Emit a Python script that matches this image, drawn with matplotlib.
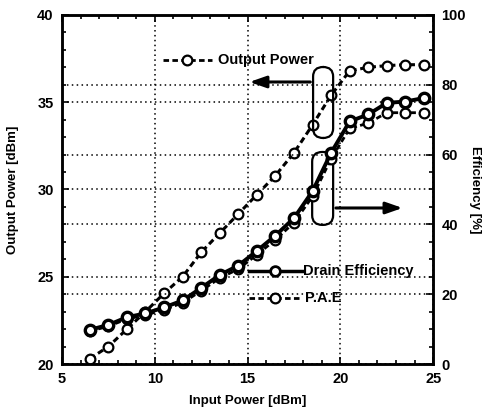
import matplotlib
matplotlib.use("Agg")
import matplotlib.pyplot as plt
from matplotlib.patches import FancyBboxPatch
from matplotlib.ticker import MultipleLocator

plt.rcParams['font.family'] = ['Liberation Sans', 'DejaVu Sans']
plt.rcParams['font.weight'] = 'bold'

# data
input_power = [6.5, 7.5, 8.5, 9.5, 10.5, 11.5, 12.5, 13.5, 14.5, 15.5,
               16.5, 17.5, 18.5, 19.5, 20.5, 21.5, 22.5, 23.5, 24.5]
output_power = [20.3, 21.0, 22.0, 23.0, 24.05, 25.0, 26.4, 27.5, 28.6, 29.7,
                30.8, 32.1, 33.7, 35.4, 36.8, 37.0, 37.1, 37.15, 37.15]
drain_eff = [9.8, 11.2, 13.4, 14.5, 16.2, 18.2, 21.8, 25.5, 28.2, 32.4,
             36.8, 41.8, 49.5, 60.5, 69.5, 71.5, 74.8, 75.2, 76.2]
pae = [9.4, 10.8, 12.9, 14.0, 15.6, 17.5, 21.0, 24.6, 27.2, 31.3,
       35.6, 40.5, 48.0, 58.8, 67.5, 69.0, 72.0, 72.0, 72.0]

fig = plt.figure(figsize=(4.84, 4.16), dpi=100)
ax = fig.add_axes([0.128, 0.125, 0.767, 0.839])
ax2 = ax.twinx()

dotted = (0, (1, 2.2))

ax.plot(input_power, output_power, color='black', lw=2.2, ls=(0, (2, 1.2)),
        marker='o', ms=7, mfc='white', mec='black', mew=1.6, zorder=5)
ax2.plot(input_power, drain_eff, color='black', lw=2.8, ls='-',
         marker='o', ms=7.5, mfc='white', mec='black', mew=2.4, zorder=5)
ax2.plot(input_power, pae, color='black', lw=2.0, ls=(0, (2, 1.2)),
         marker='o', ms=7, mfc='white', mec='black', mew=1.6, zorder=4)

ax.set_xlim(5, 25)
ax.set_ylim(20, 40)
ax2.set_ylim(0, 100)

ax.xaxis.set_major_locator(MultipleLocator(5))
ax.xaxis.set_minor_locator(MultipleLocator(1))
ax.yaxis.set_major_locator(MultipleLocator(5))
ax.yaxis.set_minor_locator(MultipleLocator(1))
ax2.yaxis.set_major_locator(MultipleLocator(20))
ax2.yaxis.set_minor_locator(MultipleLocator(5))

for a in (ax, ax2):
    a.tick_params(which='both', direction='in', width=1.2, labelsize=10.5)
    a.tick_params(which='major', length=5)
    a.tick_params(which='minor', length=3)
    for s in a.spines.values():
        s.set_linewidth(1.8)
ax.tick_params(which='both', top=True, pad=6)
ax2.tick_params(which='both', pad=6)

ax.grid(True, which='major', color='black', lw=1.1, ls=dotted)
ax2.grid(True, which='major', axis='y', color='black', lw=1.1, ls=dotted)

ax.set_xlabel('Input Power [dBm]', fontsize=9.5, fontweight='bold', labelpad=6)
ax.set_ylabel('Output Power [dBm]', fontsize=9.5, fontweight='bold', labelpad=13)
ax2.set_ylabel('Efficiency [%]', fontsize=9.5, fontweight='bold',
               rotation=-90, va='center', ha='center')
ax2.yaxis.set_label_coords(1.113, 0.5)

# legend-like annotations drawn inside the plot
ax.plot([10.45, 13.1], [37.42, 37.42], color='black', lw=2, ls=(0, (2, 1.2)))
ax.plot([11.75], [37.42], marker='o', ms=7, mfc='white', mec='black', mew=1.6)
ax.text(13.4, 37.42, 'Output Power', fontsize=10.5, fontweight='bold',
        va='center', ha='left')

ax.plot([15.1, 17.95], [25.33, 25.33], color='black', lw=2.5, ls='-')
ax.plot([16.5], [25.33], marker='o', ms=7, mfc='white', mec='black', mew=2)
ax.text(18.0, 25.33, 'Drain Efficiency', fontsize=10.5, fontweight='bold',
        va='center', ha='left')
ax.plot([15.1, 17.95], [23.78, 23.78], color='black', lw=2, ls=(0, (2, 1.2)))
ax.plot([16.5], [23.78], marker='o', ms=7, mfc='white', mec='black', mew=1.6)
ax.text(18.1, 23.78, 'P.A.E', fontsize=10.5, fontweight='bold',
        va='center', ha='left')

# ellipses around the curves and arrows to their axes
for x0, x1, y0, y1 in [(18.53, 19.61, 32.95, 37.02), (18.48, 19.61, 27.97, 32.15)]:
    ax.add_patch(FancyBboxPatch((x0, y0), x1 - x0, y1 - y0,
                                boxstyle='round,pad=0,rounding_size=0.55',
                                mutation_aspect=1.0, fill=False,
                                ec='black', lw=1.6, zorder=6))

ax.annotate('', xy=(14.95, 36.16), xytext=(18.53, 36.16),
            arrowprops=dict(arrowstyle='-|>,head_length=1.0,head_width=0.35',
                            color='black', lw=2.2))
ax.annotate('', xy=(23.5, 28.94), xytext=(19.61, 28.94),
            arrowprops=dict(arrowstyle='-|>,head_length=1.0,head_width=0.35',
                            color='black', lw=2.2))

fig.savefig('out.png', dpi=100)
